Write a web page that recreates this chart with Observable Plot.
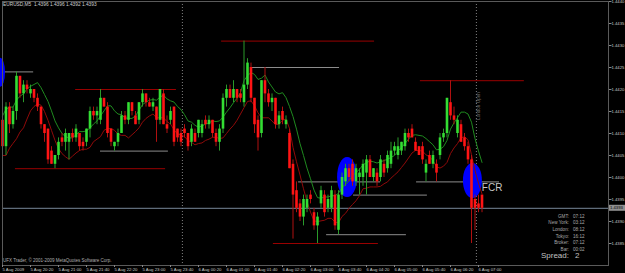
<!DOCTYPE html>
<html><head><meta charset="utf-8">
<script src="https://cdn.jsdelivr.net/npm/d3@7"></script>
<script src="https://cdn.jsdelivr.net/npm/@observablehq/plot@0.6"></script>
<style>
html,body{margin:0;padding:0;background:#000;}
#chart{width:625px;height:273px;overflow:hidden;}
</style></head><body><div id="chart"></div>
<script>
// ---- data (EURUSD M5, 5 Aug 2009 19:40 -> 6 Aug 2009 07:05) ----
const symbol = "EURUSD,M5";
const opens = [1.4413,1.4407,1.4416,1.4412,1.4415,1.4423,1.4419,1.4421,1.4419,1.4420,
1.4418,1.4416,1.4412,1.4411,1.4406,1.4403,1.4405,1.4409,1.4408,1.4408,
1.4410,1.4409,1.4410,1.4408,1.4408,1.4411,1.4415,1.4414,1.4413,1.4418,
1.4416,1.4411,1.4407,1.4408,1.4410,1.4414,1.4413,1.4417,1.4414,1.4413,
1.4417,1.4419,1.4417,1.4416,1.4416,1.4413,1.4419,1.4412,1.4413,1.4416,
1.4411,1.4410,1.4411,1.4410,1.4408,1.4410,1.4410,
1.4410,1.4413,1.4412,1.4413,1.4410,1.4408,1.4411,1.4418,1.4420,1.4418,
1.4420,1.4419,1.4417,1.4421,1.4425,1.4418,1.4413,1.4410,1.4422,1.4419,
1.4417,1.4418,1.4412,1.4415,1.4412,1.4410,1.4403,1.4397,1.4394,1.4391,
1.4393,1.4396,1.4392,1.4389,1.4394,1.4396,1.4393,1.4393,1.4396,1.4388,
1.4396,1.4399,1.4402,1.4403,1.4399,1.4400,1.4400,1.4401,1.4404,1.4400,
1.4401,1.4400,1.4403,1.4402,1.4403,1.4406,1.4405,1.4406,1.4407,1.4410,
1.4411,1.4408,1.4407,1.4407,1.4401,1.4405,1.4403,1.4403,1.4405,1.4409,
1.4410,1.4417,1.4414,1.4410,1.4412,1.4409,1.4407,1.4404,1.4395,1.4394,1.4396];
const highs = [1.4414,1.4417,1.4417,1.4416,1.4424,1.4423,1.4422,1.4422,1.4421,1.4420,
1.4419,1.4416,1.4412,1.4411,1.4407,1.4405,1.4409,1.4410,1.4411,1.4410,
1.4411,1.4412,1.4410,1.4409,1.4411,1.4416,1.4416,1.4416,1.4420,1.4418,
1.4417,1.4411,1.4408,1.4411,1.4415,1.4415,1.4417,1.4417,1.4415,1.4417,
1.4420,1.4419,1.4418,1.4418,1.4416,1.4420,1.4420,1.4414,1.4416,1.4416,
1.4411,1.4411,1.4412,1.4410,1.4412,1.4411,1.4413,
1.4413,1.4414,1.4414,1.4413,1.4411,1.4412,1.4419,1.4421,1.4421,1.4422,
1.4420,1.4420,1.4431,1.4427,1.4426,1.4418,1.4414,1.4422,1.4425,1.4420,
1.4419,1.4418,1.4415,1.4416,1.4414,1.4411,1.4404,1.4399,1.4395,1.4396,
1.4396,1.4397,1.4393,1.4392,1.4398,1.4397,1.4396,1.4398,1.4397,1.4397,
1.4401,1.4403,1.4403,1.4404,1.4403,1.4402,1.4404,1.4405,1.4405,1.4402,
1.4402,1.4405,1.4404,1.4406,1.4408,1.4408,1.4409,1.4408,1.4411,1.4411,
1.4412,1.4409,1.4407,1.4408,1.4404,1.4406,1.4406,1.4404,1.4410,1.4411,
1.4418,1.4422,1.4416,1.4414,1.4413,1.4410,1.4408,1.4405,1.4396,1.4396,1.4396];
const lows = [1.4405,1.4405,1.4410,1.4411,1.4413,1.4418,1.4417,1.4419,1.4418,1.4417,
1.4415,1.4411,1.4408,1.4403,1.4403,1.4402,1.4404,1.4407,1.4406,1.4404,
1.4408,1.4408,1.4406,1.4406,1.4407,1.4409,1.4413,1.4412,1.4412,1.4416,
1.4409,1.4407,1.4406,1.4407,1.4410,1.4412,1.4412,1.4414,1.4412,1.4412,
1.4416,1.4416,1.4416,1.4415,1.4408,1.4412,1.4412,1.4410,1.4412,1.4407,
1.4408,1.4407,1.4409,1.4406,1.4407,1.4408,1.4409,
1.4409,1.4411,1.4411,1.4409,1.4407,1.4406,1.4410,1.4416,1.4418,1.4417,
1.4417,1.4417,1.4416,1.4420,1.4417,1.4410,1.4406,1.4409,1.4417,1.4416,
1.4415,1.4411,1.4411,1.4412,1.4411,1.4402,1.4386,1.4392,1.4390,1.4389,
1.4392,1.4394,1.4388,1.4385,1.4393,1.4391,1.4392,1.4392,1.4388,1.4387,
1.4395,1.4398,1.4399,1.4398,1.4398,1.4396,1.4398,1.4396,1.4400,1.4399,
1.4398,1.4399,1.4400,1.4401,1.4402,1.4405,1.4404,1.4405,1.4406,1.4408,
1.4409,1.4406,1.4405,1.4403,1.4399,1.4403,1.4402,1.4399,1.4404,1.4408,
1.4409,1.4413,1.4412,1.4409,1.4408,1.4406,1.4403,1.4385,1.4388,1.4392,1.4392];
const closes = [1.4407,1.4416,1.4412,1.4415,1.4423,1.4419,1.4421,1.4420,1.4420,1.4418,
1.4416,1.4412,1.4410,1.4404,1.4403,1.4405,1.4408,1.4408,1.4410,1.4410,
1.4409,1.4411,1.4407,1.4407,1.4411,1.4415,1.4414,1.4415,1.4418,1.4416,
1.4410,1.4408,1.4408,1.4410,1.4414,1.4413,1.4417,1.4415,1.4412,1.4417,
1.4419,1.4417,1.4416,1.4417,1.4413,1.4420,1.4412,1.4411,1.4415,1.4408,
1.4409,1.4408,1.4410,1.4407,1.4411,1.4408,1.4413,
1.4412,1.4412,1.4413,1.4410,1.4408,1.4411,1.4418,1.4420,1.4418,1.4420,
1.4418,1.4418,1.4421,1.4426,1.4418,1.4412,1.4409,1.4422,1.4419,1.4417,
1.4418,1.4412,1.4414,1.4413,1.4413,1.4402,1.4396,1.4393,1.4391,1.4395,
1.4395,1.4395,1.4389,1.4391,1.4397,1.4392,1.4395,1.4397,1.4389,1.4396,
1.4400,1.4402,1.4400,1.4399,1.4402,1.4401,1.4403,1.4404,1.4400,1.4402,
1.4399,1.4404,1.4401,1.4405,1.4406,1.4407,1.4407,1.4408,1.4410,1.4409,
1.4409,1.4406,1.4405,1.4404,1.4403,1.4403,1.4405,1.4401,1.4409,1.4410,
1.4418,1.4414,1.4413,1.4413,1.4408,1.4407,1.4404,1.4393,1.4393,1.4393,1.4393];

// axis ticks
const yTicks = [1.4440,1.4435,1.4430,1.4425,1.4420,1.4415,1.4410,1.4405,1.4400,1.4395,1.4390,1.4385];
const xTickBars = [0,8,16,24,32,40,48,56,64,72,80,88,96,104,112,120,128,136];
const xTickLabels = ["5 Aug 2009","5 Aug 20:20","5 Aug 21:00","5 Aug 21:40","5 Aug 22:20","5 Aug 23:00","5 Aug 23:40",
  "6 Aug 00:20","6 Aug 01:00","6 Aug 01:40","6 Aug 02:20","6 Aug 03:00","6 Aug 03:40","6 Aug 04:20","6 Aug 05:00",
  "6 Aug 05:40","6 Aug 06:20","6 Aug 07:00"];

// horizontal level lines (price, from bar, to bar)
const grayLevelPrice = [1.4424, 1.4425, 1.4406, 1.4399, 1.4399, 1.4396, 1.4387];
const grayLevelFrom  = [-0.6, 71.4, 28.0, 84.6, 118.3, 100.3, 92.6];
const grayLevelTo    = [8.9, 96.3, 47.4, 108.0, 142.0, 121.4, 115.4];
const redLevelPrice = [1.4420, 1.4431, 1.4422, 1.4402, 1.4385];
const redLevelFrom  = [20.9, 62.6, 119.4, 3.7, 77.4];
const redLevelTo    = [49.7, 106.3, 149.1, 46.6, 107.4];

// vertical separators (bar positions)
const separatorBars = [51.4, 135.4];
const separatorText = ["", "London Open"];

// blue signal ellipses
const sigBar = [-0.57, 98.6, 134.4];
const sigPrice = [1.44238, 1.4400, 1.43992];
const sigHalfBars = [1.43, 2.86, 2.71];
const sigHalfPrice = [0.00033, 0.000455, 0.0004];

// FCR label
const fcrLabel = "FCR";
const fcrBar = 137.1;
const fcrPrice = 1.43974;

// info panel
const infoLabels = ["GMT:", "New York:", "London:", "Tokyo:", "Broker:", "Bar:"];
const infoValues = ["07:12", "03:12", "08:12", "16:12", "07:12", "00:02"];
const spreadValue = "2";
const copyright = "UFX Trader, \u00a9 2001-2009 MetaQuotes Software Corp.";

// ---- build ----
const bars = opens.map((o, i) => ({i, o, h: highs[i], l: lows[i], c: closes[i], up: closes[i] >= o}));
const last = bars[bars.length - 1];
const gIdx = grayLevelPrice.map((_, i) => i);
const rIdx = redLevelPrice.map((_, i) => i);
const FONT = "Liberation Sans, Arial, sans-serif";

const ellipses = (index, scales) => {
  const g = d3.create("svg:g");
  sigBar.forEach((b, k) => {
    const cx = scales.x(b), cy = scales.y(sigPrice[k]);
    const rx = Math.abs(scales.x(b + sigHalfBars[k]) - cx);
    const ry = Math.abs(scales.y(sigPrice[k] + sigHalfPrice[k]) - cy);
    g.append("ellipse").attr("cx", cx).attr("cy", cy).attr("rx", rx).attr("ry", ry).attr("fill", "#0000ff");
  });
  return g.node();
};

const overlay = (index, scales, values, dim) => {
  const g = d3.create("svg:g").attr("font-family", FONT).attr("text-anchor", "start");
  const fr = dim.width - dim.marginRight, fb = dim.height - dim.marginBottom;
  const f4 = d => d.toFixed(4);
  const txt = (x, y, size, fill, s, anchor = "start") =>
    g.append("text").attr("x", x).attr("y", y).attr("text-anchor", anchor).attr("dominant-baseline", "middle")
      .attr("font-size", size).attr("fill", fill).text(s);
  // title
  txt(dim.marginLeft + 1, 4.6, 4.8, "#d0d0d0", `${symbol}  ${f4(last.o)} ${f4(last.h)} ${f4(last.l)} ${f4(last.c)}`);
  // copyright
  txt(dim.marginLeft + 1, fb - 4, 4.5, "#b0b0b0", copyright);
  // rotated separator text
  separatorBars.forEach((b, k) => {
    if (!separatorText[k]) return;
    const sx = scales.x(b) + 3, sy = 106;
    g.append("text").attr("transform", `translate(${sx},${sy}) rotate(-90)`).attr("text-anchor", "middle")
      .attr("dominant-baseline", "middle").attr("font-size", 4.5).attr("fill", "#707070").text(separatorText[k]);
  });
  // FCR
  txt(scales.x(fcrBar), scales.y(fcrPrice), 10, "#c8c8c8", fcrLabel);
  // info panel
  const offs = [48, 42, 35, 28.5, 22, 15];
  infoLabels.forEach((lab, k) => {
    txt(fr - 39, fb - offs[k], 4.6, "#a8a8a8", lab, "end");
    txt(fr - 35, fb - offs[k], 4.6, "#a8a8a8", infoValues[k]);
  });
  txt(fr - 39, fb - 9, 8, "#c0c0c0", "Spread:", "end");
  txt(fr - 33, fb - 9, 8, "#c0c0c0", spreadValue);
  // price box
  const py = scales.y(last.c);
  g.append("rect").attr("x", fr + 1).attr("y", py - 3).attr("width", 16).attr("height", 6).attr("fill", "#909090");
  txt(fr + 2, py + 0.3, 4.2, "#000", f4(last.c));
  return g.node();
};

const chart = Plot.plot({
  width: 625, height: 273,
  marginTop: 1, marginRight: 17, marginBottom: 8, marginLeft: 2,
  style: {background: "#000", color: "#c8c8c8", fontFamily: FONT, fontSize: "5px", overflow: "visible"},
  x: {type: "linear", domain: [0, 137], range: [2, 2 + 137 * 3.5]},
  y: {domain: [1.4380, 1.4440]},
  marks: [
    Plot.ruleY(gIdx, {y: i => grayLevelPrice[i], x1: i => grayLevelFrom[i], x2: i => grayLevelTo[i], stroke: "#8c8c8c", clip: true}),
    Plot.ruleY(rIdx, {y: i => redLevelPrice[i], x1: i => redLevelFrom[i], x2: i => redLevelTo[i], stroke: "#990000", clip: true}),
    Plot.ruleX(separatorBars, {stroke: "#808080", strokeDasharray: "1,2"}),
    Plot.ruleY([last.c], {stroke: "#778899"}),
    ellipses,
    Plot.lineY(bars, Plot.windowY({k: 7, anchor: "end", reduce: "mean"}, {x: "i", y: "h", stroke: "#1f8a1f", strokeWidth: 1})),
    Plot.lineY(bars, Plot.windowY({k: 7, anchor: "end", reduce: "mean"}, {x: "i", y: "l", stroke: "#8f0a0a", strokeWidth: 1})),
    Plot.ruleX(bars, {filter: d => d.up, x: "i", y1: "l", y2: "h", stroke: "#2a9a2a"}),
    Plot.ruleX(bars, {filter: d => !d.up, x: "i", y1: "l", y2: "h", stroke: "#b01010"}),
    Plot.ruleX(bars, {filter: d => d.up, x: "i", y1: "o", y2: "c", stroke: "#33dd33", strokeWidth: 2.6}),
    Plot.ruleX(bars, {filter: d => !d.up, x: "i", y1: "o", y2: "c", stroke: "#ff1414", strokeWidth: 2.6}),
    Plot.frame({stroke: "#5a5a5a"}),
    Plot.axisY(yTicks, {anchor: "right", tickSize: 2.5, tickPadding: 0.5, fontSize: 4.2, tickFormat: d => d.toFixed(4), stroke: "#888", fill: "#c8c8c8", label: null}),
    Plot.axisX(xTickBars, {anchor: "bottom", tickSize: 2, tickPadding: 0.5, fontSize: 4.3, textAnchor: "start",
      tickFormat: d => xTickLabels[xTickBars.indexOf(d)], stroke: "#888", fill: "#c8c8c8", label: null}),
    overlay
  ]
});
document.getElementById("chart").append(chart);
</script>
</body></html>
